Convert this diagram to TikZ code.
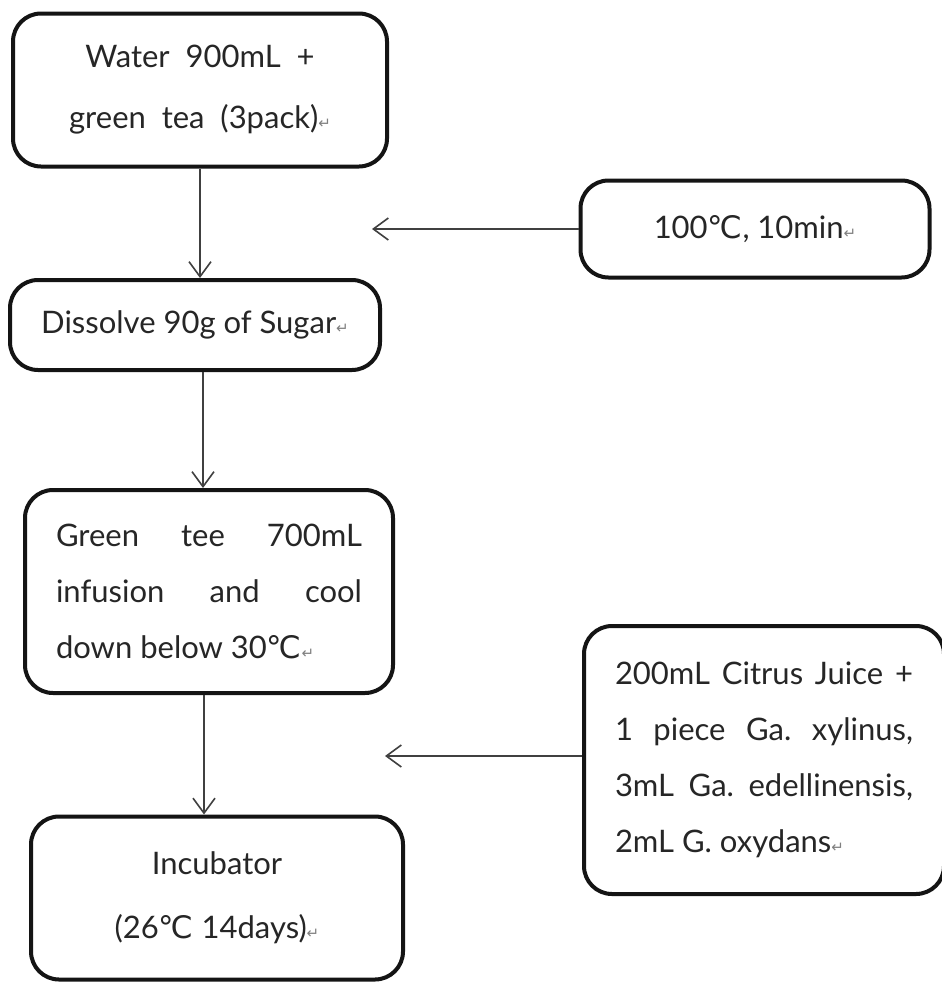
\documentclass[tikz,border=0pt]{standalone}
\usepackage{fontspec}
\setmainfont{Lato}
\newfontfamily\dejavu{DejaVu Sans}
\usetikzlibrary{arrows.meta}
\newcommand\degC{{\dejavu ℃}}
\newcommand\retmark{{\color{gray}\dejavu\fontsize{15}{15}\selectfont ↵}}
\tikzset{
  x=1pt, y=-1pt,
  box/.style={draw=black!92, line width=4pt, rounded corners=28pt, fill=white,
    font=\fontsize{31}{56}\selectfont\frenchspacing, text=black!85, inner sep=0pt},
  arr/.style={draw=black!75, line width=1.6pt, -{Straight Barb[length=15pt,width=22pt,line width=1.6pt]}},
}
\begin{document}
\begin{tikzpicture}
\useasboundingbox (0,0) rectangle (942,983);
\fill[white] (0,0) rectangle (942,983);

\node[box, minimum width=374, minimum height=153, align=center, font=\fontsize{31}{61}\selectfont] (water) at (200,90)
  {Water\ \ 900mL\ \ +\\green\ \ tea\ \ (3pack)\retmark};
\node[box, minimum width=370, minimum height=90] (dissolve) at (195,325)
  {Dissolve 90g of Sugar\retmark};
\node[box, minimum width=349, minimum height=97] (heat) at (755,229)
  {100\degC, 10min\retmark};
\node[box, minimum width=368, minimum height=203, align=left] (infuse) at (209,591.5)
  {\makebox[306pt][s]{Green tee 700mL}\\\makebox[306pt][s]{infusion and cool}\\\makebox[306pt][l]{down below 30\degC\retmark}};
\node[box, minimum width=372, minimum height=163, align=center, font=\fontsize{31}{64}\selectfont] (incub) at (217,898)
  {Incubator\\(26\degC\ 14days)\retmark};
\node[box, minimum width=360, minimum height=268, align=left] (citrus) at (764,760)
  {\makebox[298pt][s]{200mL Citrus Juice +}\\\makebox[298pt][s]{1 piece Ga. xylinus,}\\\makebox[298pt][s]{3mL Ga. edellinensis,}\\\makebox[298pt][l]{2mL G. oxydans\retmark}};

\coordinate (heattip) at (372,229);
\coordinate (citrustip) at (385,756);

\draw[arr] (water.south) -- (water.south |- dissolve.north);
\draw[arr] ([xshift=8pt]dissolve.south) -- ([xshift=8pt]dissolve.south |- infuse.north);
\draw[arr] ([xshift=-5pt]infuse.south) -- ([xshift=-5pt]infuse.south |- incub.north);
\draw[arr] (heat.west) -- (heattip);
\draw[arr] (citrus.west |- citrustip) -- (citrustip);
\end{tikzpicture}
\end{document}
